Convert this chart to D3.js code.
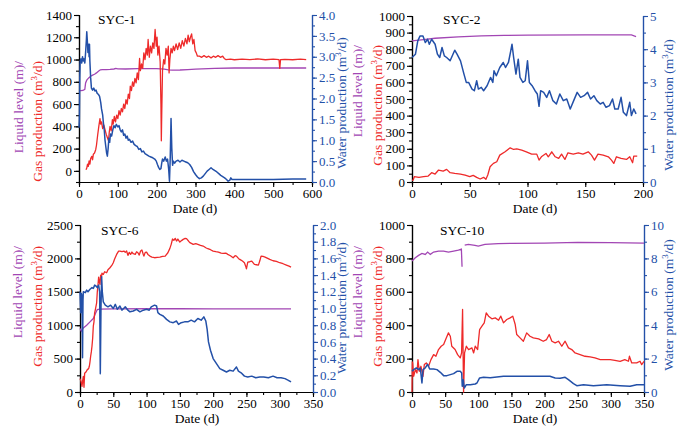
<!DOCTYPE html>
<html>
<head>
<meta charset="utf-8">
<script src="https://cdn.jsdelivr.net/npm/d3@7"></script>
<style>
    body { margin: 0; background: #fff; }
    svg { font-family: "Liberation Serif", "Times New Roman", serif; }
</style>
</head>
<body>
<svg id="CANVAS" width="683" height="426"></svg>
<script>

    // ---- data: [day, value] ----
    var syc1Gas = [[18,10],[20,25],[22,60],[24,40],[26,90],[28,60],[30,110],[33,130],[35,100],[37,150],[40,160],[43,190],[45,230],[48,320],[51,400],[54,470],[56,420],[58,440],[61,380],[64,410],[67,370],[70,330],[73,300],[76,270],[78,350],[80,400],[83,360],[86,460],[88,420],[91,490],[94,440],[97,500],[100,470],[103,540],[106,500],[109,560],[112,530],[115,600],[118,560],[121,640],[124,600],[127,690],[130,650],[132,760],[135,720],[138,800],[141,760],[144,830],[147,790],[150,880],[153,820],[156,1010],[158,900],[161,960],[164,920],[167,1060],[170,1000],[173,1100],[176,1040],[178,1180],[181,1020],[184,1120],[187,1060],[190,1150],[193,1100],[196,1270],[199,1120],[201,1200],[203,1040],[206,1120],[209,980],[211,600],[212,270],[213,500],[215,900],[218,1000],[221,960],[224,1100],[227,1040],[230,1120],[232,880],[234,1000],[237,1100],[240,1060],[243,1120],[246,1080],[250,1140],[254,1090],[258,1150],[262,1100],[266,1170],[270,1120],[274,1190],[278,1140],[281,1220],[284,1160],[287,1200],[290,1230],[293,1140],[296,1180],[299,1080],[302,1060],[305,1030],[310,1030],[316,1020],[322,1035],[328,1020],[334,1030],[340,1015],[346,1030],[352,1020],[358,1035],[364,1020],[370,1030],[374,1010],[378,1000],[390,1003],[400,998],[420,1003],[440,1000],[460,1005],[480,998],[500,1003],[515,1000],[517,920],[519,1000],[530,1002],[550,998],[570,1003],[585,1000]];
    var syc1Level = [[0,722],[5,720],[10,722],[15,732],[17,790],[20,815],[25,835],[30,850],[35,860],[40,868],[45,880],[50,895],[55,908],[60,910],[70,910],[80,912],[90,915],[95,920],[100,916],[120,915],[150,918],[200,918],[220,914],[230,908],[240,904],[260,906],[280,910],[300,914],[350,920],[400,924],[500,924],[585,924]];
    var syc1Water = [[0,1.3],[1,1.5],[2,2.5],[3,2.9],[5,2.95],[7,2.85],[9,3.0],[11,2.9],[13,2.95],[15,2.85],[17,3.1],[19,3.4],[20,3.6],[22,3.3],[23,3.1],[25,3.3],[26,3.0],[27,3.3],[28,2.9],[30,2.5],[32,2.25],[35,2.2],[38,2.25],[41,2.18],[44,2.2],[47,2.12],[50,2.1],[53,2.05],[56,1.9],[58,1.75],[61,1.6],[63,1.4],[65,1.25],[67,1.0],[69,0.85],[71,0.7],[73,0.62],[75,0.8],[77,1.05],[79,0.95],[81,1.15],[84,1.1],[87,1.25],[90,1.35],[93,1.3],[96,1.38],[100,1.32],[103,1.35],[106,1.25],[109,1.2],[112,1.25],[115,1.12],[118,1.15],[121,1.05],[124,1.1],[127,1.0],[130,1.02],[134,0.95],[138,0.98],[142,0.9],[146,0.87],[150,0.85],[154,0.78],[158,0.8],[162,0.72],[166,0.74],[170,0.68],[175,0.65],[180,0.62],[185,0.6],[190,0.58],[195,0.55],[199,0.5],[202,0.42],[205,0.35],[208,0.3],[211,0.32],[213,0.45],[215,0.55],[218,0.5],[222,0.6],[225,0.5],[228,0.55],[231,0.3],[233,0.02],[235,0.6],[237,1.52],[239,0.8],[241,0.4],[243,0.5],[246,0.45],[250,0.5],[255,0.52],[260,0.48],[265,0.52],[270,0.5],[275,0.48],[280,0.46],[285,0.42],[290,0.35],[295,0.25],[300,0.18],[305,0.12],[310,0.08],[315,0.1],[320,0.14],[325,0.2],[330,0.26],[335,0.3],[340,0.34],[345,0.3],[350,0.27],[355,0.24],[360,0.2],[365,0.16],[370,0.13],[375,0.1],[380,0.06],[384,0.02],[388,0.04],[391,0.1],[394,0.06],[400,0.06],[450,0.06],[500,0.06],[550,0.07],[585,0.07]];

    var syc2Gas = [[0,10],[1,12],[2,32],[6,28],[10,32],[14,36],[17,56],[20,48],[23,72],[27,66],[30,76],[33,56],[37,52],[42,48],[46,42],[50,32],[53,40],[56,28],[59,18],[62,28],[64,16],[65.6,42],[67.6,92],[70.5,112],[73.4,122],[76,162],[80.6,182],[85,206],[88,196],[90.7,200],[95,192],[99,182],[103.6,168],[108,168],[110,132],[112,152],[116,172],[118,152],[121,182],[124,152],[127,142],[129.5,168],[132.4,136],[135,176],[139.6,168],[144,176],[148,168],[152.6,182],[155.4,162],[158,132],[161,168],[165.5,162],[170,152],[172.7,132],[174.7,112],[177,152],[181,142],[185.7,136],[188.5,152],[191,116],[192,156],[195,156]];
    var syc2Level = [[0,850],[10,858],[20,866],[40,874],[60,880],[80,883],[100,885],[150,886],[190,886],[194,876]];
    var syc2Water = [[0,3.75],[3,3.85],[5,4.25],[7,4.4],[9.5,4.4],[11.5,4.2],[13.5,4.3],[15,4.15],[17,4.3],[20,4.15],[22,3.85],[24,3.75],[26,4.05],[28,3.8],[30,3.75],[33,3.65],[37,3.97],[39,3.85],[42,3.65],[45,3.25],[47,3.0],[49,3.0],[52,2.8],[54,2.75],[56,3.05],[57.5,2.8],[60,2.85],[62,2.75],[65,2.9],[68,3.15],[70,3.0],[71,3.35],[73,3.2],[76,3.45],[79,3.6],[81,3.45],[83.5,3.6],[85.5,3.95],[86.6,4.15],[88,3.75],[90,3.25],[92,3.7],[93.5,3.15],[96,3.0],[98,3.05],[100,3.65],[101.6,3.0],[104,2.9],[106.5,2.75],[108.5,2.65],[110,2.28],[111.4,2.75],[114,2.7],[116.6,2.55],[119,2.75],[122,2.45],[125,2.35],[128,2.65],[131,2.45],[134,2.5],[137,2.2],[140,2.45],[143,2.7],[146,2.55],[149,2.6],[152,2.7],[154.6,2.5],[157.5,2.6],[160,2.45],[163,2.35],[165.5,2.4],[168,2.25],[171,2.3],[173.6,2.5],[175.6,2.2],[178.5,2.2],[181,2.55],[183,2.1],[185.7,2.0],[188.5,2.4],[190,2.0],[192,2.2],[194,2.05]];

    var syc6Gas = [[0,200],[1.5,160],[3,85],[4,170],[5,235],[6,70],[7,280],[9,300],[11,335],[13,350],[14,385],[15,450],[16,535],[17,600],[18,685],[19,800],[20,985],[21,1050],[22,1185],[23,1230],[25,1335],[26,1500],[27,1600],[28,1720],[29,1650],[30,1610],[31,1750],[32,1700],[33,1780],[35,1760],[37,1800],[40,1785],[42,1830],[45,1860],[48,1900],[50,1935],[52,1990],[55,2060],[58,2110],[60,2110],[63,2100],[66,2110],[68,2090],[70,2110],[72,2045],[74,2090],[76,2060],[78,2095],[80,2070],[83,2060],[85,2100],[87,2085],[89,2050],[91,2110],[93,2125],[95,2060],[96,2035],[98,2090],[100,2095],[102,2060],[105,2035],[108,2020],[112,2010],[116,2015],[120,2020],[124,2030],[128,2035],[132,2085],[135,2150],[137,2210],[139,2290],[141,2270],[143,2300],[145,2260],[147,2290],[150,2245],[153,2270],[155,2285],[158,2300],[160,2295],[163,2260],[165,2235],[168,2220],[170,2210],[174,2220],[177,2210],[181,2195],[185,2185],[189,2160],[192,2145],[196,2130],[200,2110],[204,2100],[208,2095],[212,2080],[215,2075],[219,2080],[222,2060],[226,2040],[230,2010],[233,2040],[235,2035],[238,2000],[240,1985],[244,1960],[247,1935],[249,1880],[250,1845],[252,1945],[255,1950],[258,1960],[262,1910],[265,1905],[268,1900],[270,1960],[272,2035],[275,2030],[278,2020],[282,2000],[285,1985],[290,1965],[295,1955],[300,1935],[305,1920],[310,1900],[314,1885],[317,1870]];
    var syc6Level = [[0,950],[2,910],[5,960],[10,1000],[15,1050],[20,1100],[23,1170],[26,1235],[30,1242],[50,1244],[100,1246],[150,1246],[200,1244],[250,1243],[317,1243]];
    var syc6Water = [[0,1.2],[1,0.95],[2,1.18],[3,1.15],[3.8,0.41],[4.5,1.1],[5,1.2],[8,1.19],[10,1.22],[12,1.2],[15,1.23],[18,1.25],[20,1.24],[22,1.28],[24,1.27],[26,1.25],[28,1.28],[29.5,1.2],[30.5,0.22],[31.5,1.0],[32.5,1.38],[33.5,1.2],[35,1.08],[38,1.04],[42,1.02],[46,1.04],[50,1.0],[53,1.05],[56,0.99],[60,1.03],[63,0.98],[68,1.02],[72,0.98],[75,0.96],[80,0.97],[85,0.99],[90,0.96],[95,0.98],[100,0.99],[104,0.98],[107,1.02],[112,1.04],[115,1.03],[117,0.95],[120,0.93],[125,0.91],[130,0.87],[135,0.84],[140,0.83],[145,0.85],[148,0.81],[152,0.83],[157,0.84],[162,0.84],[167,0.86],[172,0.84],[177,0.88],[182,0.86],[186,0.9],[189,0.85],[191,0.75],[193,0.6],[196,0.5],[200,0.4],[205,0.34],[210,0.28],[215,0.26],[220,0.24],[225,0.26],[230,0.25],[235,0.3],[238,0.25],[242,0.23],[247,0.19],[252,0.18],[258,0.19],[264,0.17],[270,0.18],[276,0.18],[283,0.17],[290,0.19],[296,0.17],[302,0.17],[308,0.16],[313,0.14],[317,0.12]];

    var syc10Gas = [[0,0],[0.5,180],[1,174],[2.5,94],[5,134],[7.5,114],[9,194],[11,124],[13.5,154],[16.5,94],[18.6,164],[21.6,174],[25,154],[28.6,194],[32.6,224],[36,214],[40,254],[44,274],[47.7,284],[51.7,324],[55,354],[57.8,334],[60,274],[65,254],[68.8,224],[72.8,204],[74.8,234],[76.3,494],[77.8,0],[79.3,234],[82,274],[85.4,254],[90.4,264],[93,234],[95.4,274],[99,254],[102,374],[105.5,394],[109,414],[112,474],[115.5,454],[120.5,438],[125.6,444],[130.6,430],[134,454],[138,414],[143,434],[148,444],[152,454],[155.7,404],[158,344],[163,324],[168,304],[173,354],[178,334],[183,324],[191,318],[198,304],[203,314],[207,344],[211,304],[216,294],[221,304],[226,274],[231,304],[236,264],[241,254],[246,234],[253.6,224],[261,214],[268.7,210],[276,204],[284,194],[291,194],[299,194],[306,190],[314,184],[321,194],[326.5,184],[328,214],[331.5,174],[339,174],[344,184],[346.5,164],[350,184]];
    var syc10Level = [[0,784],[5,804],[10,818],[15,830],[20,824],[23.6,838],[27.6,824],[32.6,838],[40,844],[47.7,844],[55,838],[62.8,844],[70,850],[74.5,856],[75.5,750],[76,null],[79.5,880],[85,884],[95,878],[100,874],[110,884],[130,888],[150,890],[200,892],[250,896],[300,894],[350,892]];
    var syc10Water = [[0,1.24],[2.5,1.34],[6.5,1.44],[10,1.34],[12.5,1.44],[15,0.54],[16.6,1.34],[20,1.44],[23.6,1.66],[26.6,1.38],[32.6,1.38],[37.7,1.34],[42.7,1.18],[47.7,0.98],[52.7,0.98],[57.8,1.04],[62.8,1.1],[67.8,1.24],[72.8,1.24],[75,1.14],[75.8,0.34],[77.3,0.74],[78.9,0.24],[82,0.44],[88,0.44],[95.4,0.48],[98,0.54],[102,0.84],[108,0.88],[118,0.86],[128,0.9],[138,0.94],[153,0.94],[173,0.94],[193,0.94],[208,0.94],[216,0.84],[223.5,0.82],[231,0.88],[236,0.74],[243.6,0.5],[248.6,0.38],[258.7,0.44],[273.7,0.38],[293.8,0.44],[314,0.38],[329,0.34],[339,0.44],[350,0.44]];

    // tick values
    var syc1XTicks = [0,100,200,300,400,500,600];
    var syc1LeftTicks = [0,200,400,600,800,1000,1200,1400];
    var syc1RightTicks = [0,0.5,1,1.5,2,2.5,3,3.5,4];
    var syc2XTicks = [0,50,100,150,200];
    var syc2LeftTicks = [0,100,200,300,400,500,600,700,800,900,1000];
    var syc2RightTicks = [0,1,2,3,4,5];
    var syc6XTicks = [0,50,100,150,200,250,300,350];
    var syc6LeftTicks = [0,500,1000,1500,2000,2500];
    var syc6RightTicks = [0,0.2,0.4,0.6,0.8,1,1.2,1.4,1.6,1.8,2];
    var syc10XTicks = [0,50,100,150,200,250,300,350];
    var syc10LeftTicks = [0,200,400,600,800,1000];
    var syc10RightTicks = [0,2,4,6,8,10];

    var RED = "#ee2a2a", BLUE = "#2350a8", PURPLE = "#a246b4";

    var PANELS = [
        { title: "SYC-1", gas: syc1Gas, level: syc1Level, water: syc1Water,
          x: [0, 600], yl: [-100, 1400], yr: [0, 4], xt: syc1XTicks, ylt: syc1LeftTicks, yrt: syc1RightTicks,
          xm: 50, ylm: 100, yrm: 0.25, rf: ".1f",
          L: 79, R: 312, T: 15, B: 182,
          lab: { liq: 23, gas: 42, endY: 61, wx: 346, wy: 103, dx: 195, dy: 213, tx: 98, ty: 24 } },
        { title: "SYC-2", gas: syc2Gas, level: syc2Level, water: syc2Water,
          x: [0, 200], yl: [0, 1000], yr: [0, 5], xt: syc2XTicks, ylt: syc2LeftTicks, yrt: syc2RightTicks,
          xm: 25, ylm: 50, yrm: 0.5, rf: "d",
          L: 412, R: 643, T: 16, B: 182,
          lab: { liq: 362, gas: 382, endY: 45, wx: 673, wy: 105, dx: 535, dy: 213, tx: 443, ty: 24 } },
        { title: "SYC-6", gas: syc6Gas, level: syc6Level, water: syc6Water,
          x: [0, 350], yl: [0, 2500], yr: [0, 2], xt: syc6XTicks, ylt: syc6LeftTicks, yrt: syc6RightTicks,
          xm: 25, ylm: 250, yrm: 0.1, rf: ".1f",
          L: 80, R: 313, T: 225, B: 392,
          lab: { liq: 22, gas: 42, endY: 246, wx: 346, wy: 308, dx: 197, dy: 423, tx: 101, ty: 235 } },
        { title: "SYC-10", gas: syc10Gas, level: syc10Level, water: syc10Water,
          x: [0, 350], yl: [0, 1000], yr: [0, 10], xt: syc10XTicks, ylt: syc10LeftTicks, yrt: syc10RightTicks,
          xm: 25, ylm: 100, yrm: 1, rf: "d",
          L: 412, R: 644, T: 225, B: 392,
          lab: { liq: 362, gas: 382, endY: 246, wx: 673, wy: 305, dx: 535, dy: 423, tx: 440, ty: 235 } }
    ];

    var svg = d3.select("#CANVAS");

    function range(a, b, s) {
        var out = [];
        for (var v = a; v <= b + 1e-9; v += s) out.push(+v.toFixed(6));
        return out;
    }

    function styleAxis(g, col, fs) {
        g.selectAll("path").attr("stroke", col).attr("stroke-width", 1.2);
        g.selectAll("line").attr("stroke", col).attr("stroke-width", 1.1);
        g.selectAll("text").attr("fill", col).style("font-size", fs + "px")
            .style("font-family", "'Liberation Serif', serif");
    }

    function supText(sel, pre, post) {
        sel.append("tspan").text(pre);
        sel.append("tspan").attr("dy", -5).style("font-size", "9px").text("3");
        sel.append("tspan").attr("dy", 5).text(post);
    }

    PANELS.forEach(function (p) {
        var x = d3.scaleLinear().domain(p.x).range([p.L, p.R]);
        var yl = d3.scaleLinear().domain(p.yl).range([p.B, p.T]);
        var yr = d3.scaleLinear().domain(p.yr).range([p.B, p.T]);
        var G = svg.append("g");

        // minor ticks
        G.append("g").attr("transform", "translate(0," + p.B + ")")
            .call(d3.axisBottom(x).tickValues(range(p.x[0], p.x[1], p.xm)).tickSize(3).tickFormat(""))
            .call(styleAxis, "#000", 13);
        G.append("g").attr("transform", "translate(" + p.L + ",0)")
            .call(d3.axisLeft(yl).tickValues(range(p.yl[0], p.yl[1], p.ylm)).tickSize(3).tickFormat(""))
            .call(styleAxis, "#000", 13);
        G.append("g").attr("transform", "translate(" + p.R + ",0)")
            .call(d3.axisRight(yr).tickValues(range(p.yr[0], p.yr[1], p.yrm)).tickSize(3).tickFormat(""))
            .call(styleAxis, BLUE, 13);

        // major ticks
        G.append("g").attr("transform", "translate(0," + p.B + ")")
            .call(d3.axisBottom(x).tickValues(p.xt).tickSize(5).tickPadding(2).tickSizeOuter(0))
            .call(styleAxis, "#000", 13);
        G.append("g").attr("transform", "translate(" + p.L + ",0)")
            .call(d3.axisLeft(yl).tickValues(p.ylt).tickSize(5).tickPadding(2).tickFormat(d3.format("d")).tickSizeOuter(0))
            .call(styleAxis, "#000", 13);
        G.append("g").attr("transform", "translate(" + p.R + ",0)")
            .call(d3.axisRight(yr).tickValues(p.yrt).tickSize(5).tickPadding(2).tickFormat(d3.format(p.rf)).tickSizeOuter(0))
            .call(styleAxis, BLUE, 13);

        // series
        var lineL = d3.line().defined(function (d) { return d[1] != null; })
            .x(function (d) { return x(d[0]); }).y(function (d) { return yl(d[1]); });
        var lineR = d3.line().x(function (d) { return x(d[0]); }).y(function (d) { return yr(d[1]); });

        G.append("path").datum(p.level).attr("d", lineL)
            .attr("fill", "none").attr("stroke", PURPLE).attr("stroke-width", 1.3);
        G.append("path").datum(p.gas).attr("d", lineL)
            .attr("fill", "none").attr("stroke", RED).attr("stroke-width", 1.3).attr("stroke-linejoin", "round");
        G.append("path").datum(p.water).attr("d", lineR)
            .attr("fill", "none").attr("stroke", BLUE).attr("stroke-width", 1.5).attr("stroke-linejoin", "round");

        // labels
        var lb = p.lab;
        G.append("text").attr("x", lb.tx).attr("y", lb.ty).style("font-size", "13.5px").text(p.title);
        G.append("text").attr("x", lb.dx).attr("y", lb.dy).attr("text-anchor", "middle")
            .style("font-size", "13.5px").text("Date (d)");
        G.append("text").attr("transform", "translate(" + lb.liq + "," + lb.endY + ") rotate(-90)")
            .attr("text-anchor", "end").attr("fill", PURPLE).style("font-size", "13.5px")
            .text("Liquid level (m)/");
        G.append("text").attr("transform", "translate(" + lb.gas + "," + lb.endY + ") rotate(-90)")
            .attr("text-anchor", "end").attr("fill", RED).style("font-size", "13.5px")
            .call(supText, "Gas production (m", "/d)");
        G.append("text").attr("transform", "translate(" + lb.wx + "," + lb.wy + ") rotate(-90)")
            .attr("text-anchor", "middle").attr("fill", BLUE).style("font-size", "13.5px")
            .call(supText, "Water production (m", "/d)");
    });

</script>
</body>
</html>
